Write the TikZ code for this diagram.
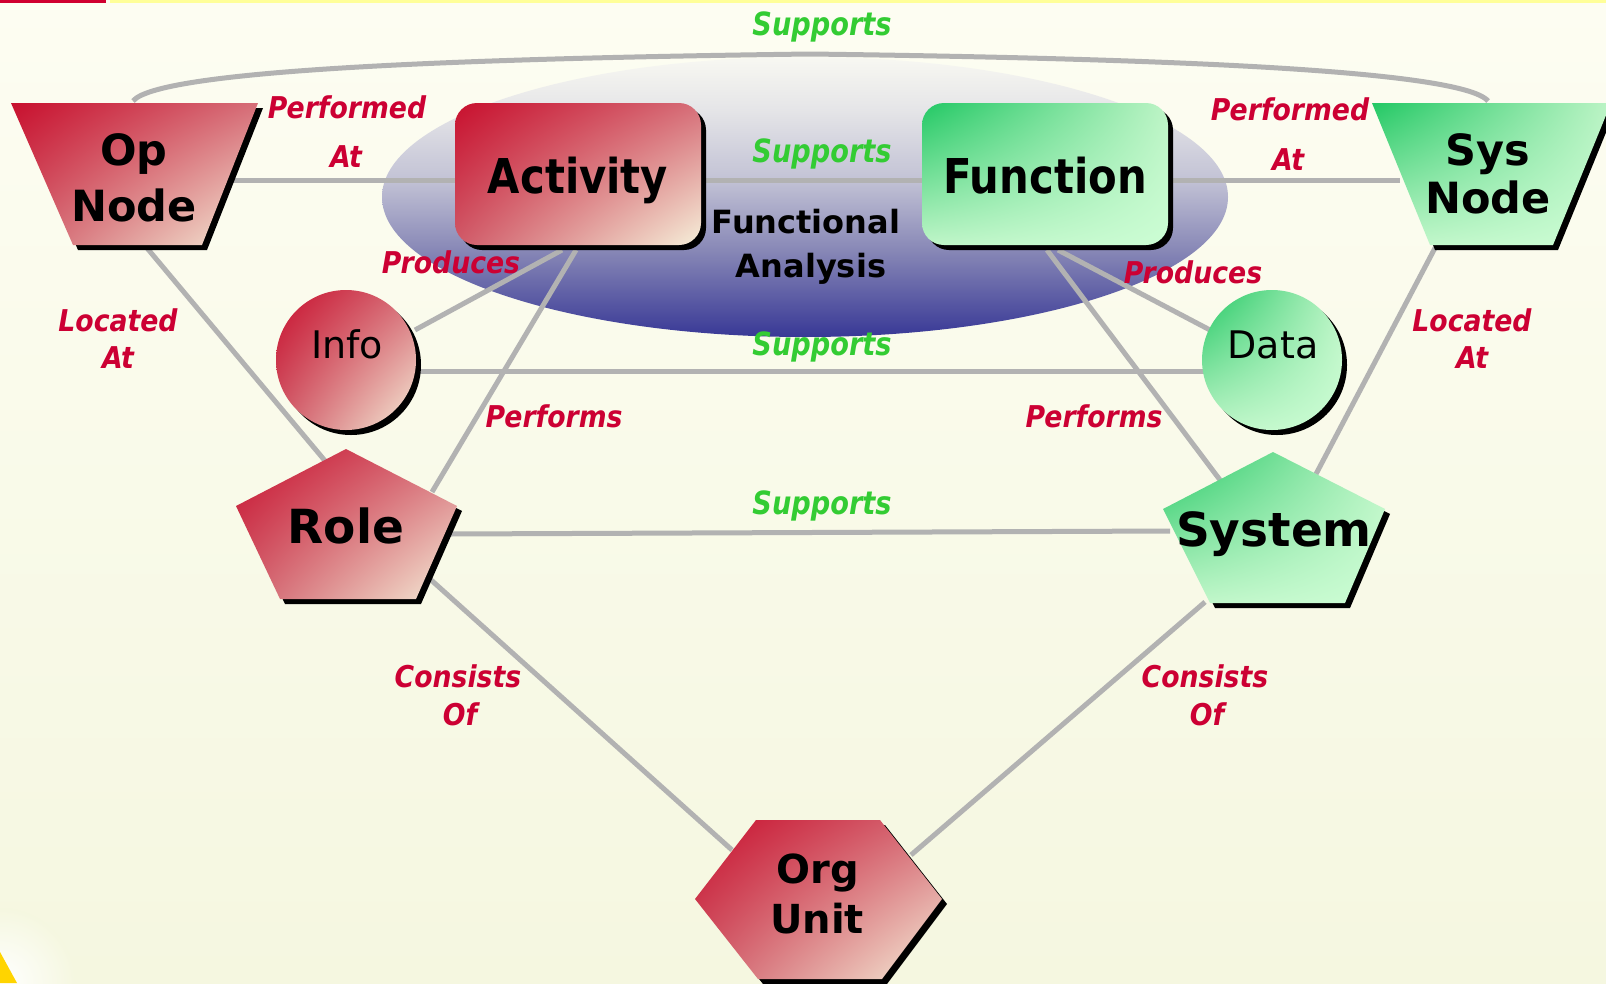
\documentclass[tikz,border=0pt]{standalone}
\usepackage{fontspec}
\setmainfont{DejaVu Sans}
\newfontfamily\condfont[FakeStretch=0.87]{DejaVu Sans}
\newfontfamily\supfont[FakeStretch=0.85]{DejaVu Sans}
\newfontfamily\lblfont[FakeStretch=0.89]{DejaVu Sans}
\usetikzlibrary{shadings}
\definecolor{bgTop}{HTML}{FDFDF2}
\definecolor{bgBot}{HTML}{F5F7E0}
\definecolor{lineGray}{HTML}{B2B2B2}
\definecolor{lblRed}{HTML}{CC0033}
\definecolor{lblGreen}{HTML}{33CC33}
\definecolor{barRed}{HTML}{D00030}
\definecolor{barYellow}{HTML}{FFFF99}
\definecolor{swoosh}{HTML}{FFD400}
\definecolor{rA}{HTML}{C8102E}
\definecolor{rUR}{HTML}{D66E78}
\definecolor{rLL}{HTML}{D05A68}
\definecolor{rLR}{HTML}{F6F0DA}
\definecolor{gA}{HTML}{22C864}
\definecolor{gUR}{HTML}{BDF4C6}
\definecolor{gLL}{HTML}{BFF5C8}
\definecolor{gLR}{HTML}{CCFDD4}
\definecolor{eA}{HTML}{383896}
\definecolor{eB}{HTML}{8585B5}
\definecolor{eC}{HTML}{C2C2D5}
\definecolor{eD}{HTML}{E6E6E8}
\definecolor{eE}{HTML}{F8F8F2}
\pgfdeclareverticalshading{ellipshade}{100bp}{color(0bp)=(eA); color(25bp)=(eA); color(40bp)=(eB); color(53bp)=(eC); color(66bp)=(eD); color(75bp)=(eE); color(100bp)=(eE)}
\begin{document}
\begin{tikzpicture}[x=1pt,y=-1pt,
  conn/.style={draw=lineGray,line width=5pt},
  redfill/.style={upper left=rA,upper right=rUR,lower left=rLL,lower right=rLR},
  grnfill/.style={upper left=gA,upper right=gUR,lower left=gLL,lower right=gLR},
  shadowfill/.style={fill=black},
  redlbl/.style={text=lblRed,font=\lblfont\fontsize{30}{36}\selectfont\bfseries\itshape,anchor=base,inner sep=0pt},
  grnlbl/.style={text=lblGreen,font=\supfont\fontsize{32}{38}\selectfont\bfseries\itshape,anchor=base,inner sep=0pt},
  nodetxt/.style={font=\fontsize{43}{50}\selectfont\bfseries,anchor=base,inner sep=0pt},
  boxtxt/.style={font=\condfont\fontsize{48}{54}\selectfont\bfseries,anchor=base,inner sep=0pt},
  fatxt/.style={font=\fontsize{32}{38}\selectfont\bfseries,anchor=base,inner sep=0pt},
  circtxt/.style={font=\fontsize{38}{44}\selectfont,anchor=base,inner sep=0pt},
  roletxt/.style={font=\fontsize{47}{54}\selectfont\bfseries,anchor=base,inner sep=0pt},
  orgtxt/.style={font=\fontsize{40}{46}\selectfont\bfseries,anchor=base,inner sep=0pt}
]
\useasboundingbox (0,0) rectangle (1606,983);
% background
\shade[top color=bgTop,bottom color=bgBot] (0,0) rectangle (1606,983);
\fill[barRed] (0,0) rectangle (106,3);
\fill[barYellow] (110,0) rectangle (1606,3);
\shade[inner color=white,outer color=bgBot] (0,983) circle[radius=75pt];
\fill[swoosh] (0,952) -- (17,983) -- (0,983) -- cycle;
% functional analysis ellipse
\shade[shading=ellipshade] (805,197) ellipse[x radius=423pt,y radius=140pt];

% connector end points
\coordinate (opE) at (215,180);
\coordinate (actW) at (470,180);
\coordinate (actE) at (690,180);
\coordinate (funW) at (935,180);
\coordinate (funE) at (1160,180);
\coordinate (sysW) at (1400,180);
\coordinate (opN) at (133,101);
\coordinate (sysN) at (1488,101);
\coordinate (opS) at (147,248);
\coordinate (roleNW) at (326,462);
\coordinate (sysS) at (1435,248);
\coordinate (systemNE) at (1316,474);
\coordinate (actS1) at (562,250);
\coordinate (infoNE) at (415,330);
\coordinate (actS2) at (576,250);
\coordinate (roleNE) at (432,492);
\coordinate (funS1) at (1058,250);
\coordinate (dataNW) at (1210,330);
\coordinate (funS2) at (1047,250);
\coordinate (systemNW) at (1220,480);
\coordinate (infoE) at (400,371);
\coordinate (dataW) at (1215,371);
\coordinate (roleE) at (450,534);
\coordinate (systemW) at (1170,531);
\coordinate (roleSE) at (430,579);
\coordinate (orgNW) at (732,850);
\coordinate (systemSW) at (1205,602);
\coordinate (orgNE) at (911,855);

% connectors
\draw[conn] (opE) -- (actW);
\draw[conn] (actE) -- (funW);
\draw[conn] (funE) -- (sysW);
\draw[conn] (opN) .. controls (160,68) and (500,58) .. (810,54) .. controls (1120,58) and (1460,68) .. (sysN);
\draw[conn] (opS) -- (roleNW);
\draw[conn] (sysS) -- (systemNE);
\draw[conn] (actS1) -- (infoNE);
\draw[conn] (actS2) -- (roleNE);
\draw[conn] (funS1) -- (dataNW);
\draw[conn] (funS2) -- (systemNW);
\draw[conn] (infoE) -- (dataW);
\draw[conn] (roleE) -- (systemW);
\draw[conn] (roleSE) -- (orgNW);
\draw[conn] (systemSW) -- (orgNE);

% Op Node
\fill[shadowfill,shift={(5,5)}] (11,103) -- (258,103) -- (202,245) -- (73,245) -- cycle;
\shade[redfill] (11,103) -- (258,103) -- (202,245) -- (73,245) -- cycle;
% Sys Node
\fill[shadowfill,shift={(5,5)}] (1372,103) -- (1611,103) -- (1553,245) -- (1430,245) -- cycle;
\shade[grnfill] (1372,103) -- (1611,103) -- (1553,245) -- (1430,245) -- cycle;
% Activity
\fill[shadowfill,rounded corners=22pt,shift={(5,5)}] (455,103) rectangle (701,245);
\shade[redfill,rounded corners=22pt] (455,103) rectangle (701,245);
% Function
\fill[shadowfill,rounded corners=22pt,shift={(5,5)}] (922,103) rectangle (1168,245);
\shade[grnfill,rounded corners=22pt] (922,103) rectangle (1168,245);
% Info
\fill[shadowfill] (351,365) circle[radius=70pt];
\shade[redfill] (346,360) circle[radius=70pt];
% Data
\fill[shadowfill] (1277,365) circle[radius=70pt];
\shade[grnfill] (1272,360) circle[radius=70pt];
% Role
\fill[shadowfill,shift={(5,5)}] (346,449) -- (457,506) -- (416,599) -- (280,599) -- (236,506) -- cycle;
\shade[redfill] (346,449) -- (457,506) -- (416,599) -- (280,599) -- (236,506) -- cycle;
% System
\fill[shadowfill,shift={(5,5)}] (1273,452) -- (1385,509) -- (1345,603) -- (1210,603) -- (1163,509) -- cycle;
\shade[grnfill] (1273,452) -- (1385,509) -- (1345,603) -- (1210,603) -- (1163,509) -- cycle;
% Org Unit
\fill[shadowfill,shift={(5,5)}] (756,820) -- (880,820) -- (942,899) -- (882,979) -- (758,979) -- (695,899) -- cycle;
\shade[redfill] (756,820) -- (880,820) -- (942,899) -- (882,979) -- (758,979) -- (695,899) -- cycle;

% shape texts
\node[nodetxt] (opA) at (134,165) {Op};
\node[nodetxt] (opB) at (134,221) {Node};
\node[nodetxt] (sysA) at (1488,165) {Sys};
\node[nodetxt] (sysB) at (1488,213) {Node};
\node[boxtxt] (activity) at (578,193) {Activity};
\node[boxtxt] (function) at (1045,193) {Function};
\node[fatxt] (faA) at (806,233) {Functional};
\node[fatxt] (faB) at (811,277) {Analysis};
\node[circtxt] (info) at (347,358) {Info};
\node[circtxt] (data) at (1273,358) {Data};
\node[roletxt] (role) at (346,543) {Role};
\node[roletxt] (system) at (1274,546) {System};
\node[orgtxt] (orgA) at (818,883) {Org};
\node[orgtxt] (orgB) at (817,933) {Unit};

% relation labels
\node[grnlbl] (supA) at (822,35) {Supports};
\node[grnlbl] (supB) at (822,162) {Supports};
\node[grnlbl] (supC) at (822,355) {Supports};
\node[grnlbl] (supD) at (822,514) {Supports};
\node[redlbl] (perfA1) at (347,118) {Performed};
\node[redlbl] (perfA2) at (346,167) {At};
\node[redlbl] (perfB1) at (1290,120) {Performed};
\node[redlbl] (perfB2) at (1288,170) {At};
\node[redlbl] (prodA) at (451,273) {Produces};
\node[redlbl] (prodB) at (1193,283) {Produces};
\node[redlbl] (locA1) at (118,331) {Located};
\node[redlbl] (locA2) at (118,368) {At};
\node[redlbl] (locB1) at (1472,331) {Located};
\node[redlbl] (locB2) at (1472,368) {At};
\node[redlbl] (perfsA) at (554,427) {Performs};
\node[redlbl] (perfsB) at (1094,427) {Performs};
\node[redlbl] (consA1) at (458,687) {Consists};
\node[redlbl] (consA2) at (460,725) {Of};
\node[redlbl] (consB1) at (1205,687) {Consists};
\node[redlbl] (consB2) at (1207,725) {Of};
\end{tikzpicture}
\end{document}
